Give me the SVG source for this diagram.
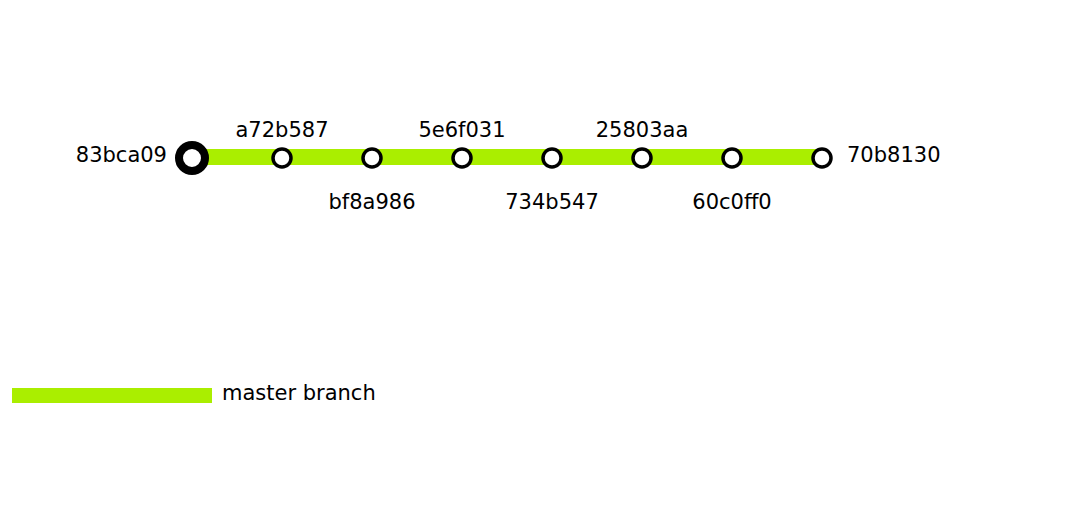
<svg xmlns="http://www.w3.org/2000/svg" width="1090" height="518" viewBox="0 0 1090 518">
<style>
text{font-family:"DejaVu Sans","Verdana",sans-serif;font-size:21px;fill:#000}
.c{fill:#fff;stroke:#000;stroke-width:3.5}
.root{fill:#fff;stroke:#000;stroke-width:8}
.br{stroke:#aaee00;stroke-width:16;fill:none}
</style>
<rect width="1090" height="518" fill="#fff"/>
<g id="connectors">
<line class="br" x1="192" y1="157" x2="822" y2="157"/>
</g>
<g id="n0"><circle class="root" cx="192" cy="158" r="13"/><text x="167" y="162" text-anchor="end">83bca09</text></g>
<g id="n1"><circle class="c" cx="282" cy="158" r="9"/><text x="282" y="137" text-anchor="middle">a72b587</text></g>
<g id="n2"><circle class="c" cx="372" cy="158" r="9"/><text x="372" y="209" text-anchor="middle">bf8a986</text></g>
<g id="n3"><circle class="c" cx="462" cy="158" r="9"/><text x="462" y="137" text-anchor="middle">5e6f031</text></g>
<g id="n4"><circle class="c" cx="552" cy="158" r="9"/><text x="552" y="209" text-anchor="middle">734b547</text></g>
<g id="n5"><circle class="c" cx="642" cy="158" r="9"/><text x="642" y="137" text-anchor="middle">25803aa</text></g>
<g id="n6"><circle class="c" cx="732" cy="158" r="9"/><text x="732" y="209" text-anchor="middle">60c0ff0</text></g>
<g id="n7"><circle class="c" cx="822" cy="158" r="9"/><text x="847" y="162">70b8130</text></g>
<g id="legend"><rect x="12" y="388" width="200" height="15" fill="#aaee00"/><text x="222" y="400">master branch</text></g>
</svg>
